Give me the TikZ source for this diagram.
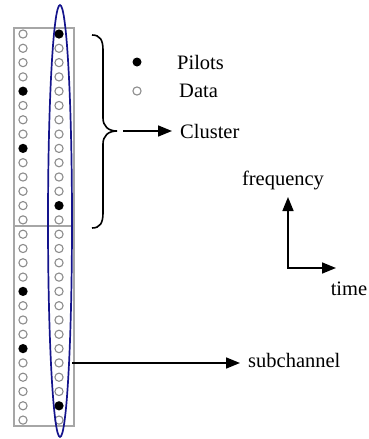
\documentclass[tikz,border=0pt]{standalone}
\usepackage{fontspec}
\setmainfont{Liberation Serif}
\usetikzlibrary{arrows.meta, positioning, shapes.geometric}
\definecolor{ellBlue}{RGB}{20,20,140}
\tikzstyle{frameBox}=[draw=black!35, line width=1.5pt]
\tikzstyle{dataDot}=[circle, draw=black!45, line width=1.1pt, inner sep=0pt, minimum size=8.2pt]
\tikzstyle{pilotDot}=[circle, fill=black, inner sep=0pt, minimum size=9pt]
\tikzstyle{arrow}=[-{Triangle[length=14pt,width=11pt]}, line width=1.6pt, draw=black]
\tikzstyle{arrowBoth}=[{Triangle[length=14pt,width=11pt]}-{Triangle[length=14pt,width=11pt]}, line width=1.6pt, draw=black]
\tikzstyle{txt}=[font=\fontsize{20.5}{24}\selectfont, inner sep=0pt]
\tikzstyle{subEll}=[draw=ellBlue, line width=1.7pt]

\begin{document}
\begin{tikzpicture}[x=1pt, y=-1pt]
      \useasboundingbox (0,0) rectangle (369,439);

      % the block of symbols
      \draw[frameBox] (14,28) rectangle (74,426);
      \draw[frameBox] (14,226) -- (74,226);
      \foreach \i in {0,...,27} {
        \node[dataDot] (l\i) at (23,34+\i*14.3) {};
        \node[dataDot] (r\i) at (59,34+\i*14.3) {};
      }
      \foreach \i in {4,8,18,22}
        \node[pilotDot] (lp\i) at (23,34+\i*14.3) {};
      \foreach \i in {0,12,26}
        \node[pilotDot] (rp\i) at (59,34+\i*14.3) {};

      \node[ellipse, subEll, inner sep=0pt, minimum width=24pt,
        minimum height=432pt] (subEllipse) at (60,221) {};

      % brace of one cluster
      \coordinate (brTip) at (117,131);
      \draw[line width=1.6pt] (92,35) .. controls (100,35) and (103,40) .. (103,50)
        -- (103,118) .. controls (103,126) and (108,131) .. (brTip)
        .. controls (108,131) and (103,136) .. (103,144)
        -- (103,213) .. controls (103,223) and (100,228) .. (92,228);

      % legend
      \node[pilotDot] (pilotKey) at (137,62) {};
      \node[txt, anchor=west] (pilots) at (177,62) {Pilots};
      \node[dataDot] (dataKey) at (137,91) {};
      \node[txt, anchor=west] (data) at (179,91) {Data};

      \node[txt, anchor=west] (cluster) at (180,131) {Cluster};
      \coordinate (clStart) at (123,131);
      \draw[arrow] (clStart) -- ([xshift=-8pt]cluster.west);

      % axes
      \coordinate (orig) at (288,268);
      \coordinate (fTip) at (288,197);
      \coordinate (tTip) at (336,268);
      \node[txt, anchor=base] (freq) at (283,185) {frequency};
      \node[txt] (time) at (349,289) {time};
      \draw[arrowBoth] (fTip) -- (orig) -- (tTip);

      % subchannel
      \coordinate (subStart) at (72,363);
      \coordinate (subEnd) at (240,363);
      \node[txt, anchor=west] (subch) at (248,360) {subchannel};
      \draw[arrow] (subStart) -- (subEnd);
\end{tikzpicture}
\end{document}
